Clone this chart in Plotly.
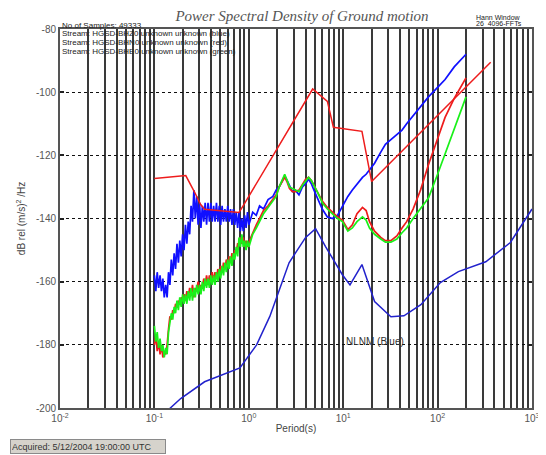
import plotly.graph_objects as go

# ---------------- data ----------------
periods_short = [
    0.1000, 0.1035, 0.1071, 0.1109, 0.1148, 0.1188, 0.1229, 0.1272, 0.1317, 0.1363,
    0.1411, 0.1460, 0.1511, 0.1564, 0.1619, 0.1675, 0.1734, 0.1795, 0.1857, 0.1922,
    0.1990, 0.2059, 0.2132, 0.2206, 0.2283, 0.2363, 0.2446, 0.2532, 0.2620, 0.2712,
    0.2807, 0.2905, 0.3007, 0.3112, 0.3221, 0.3334, 0.3450, 0.3571, 0.3696, 0.3825,
    0.3959, 0.4098, 0.4241, 0.4390, 0.4543, 0.4702, 0.4867, 0.5037, 0.5214, 0.5396,
    0.5585, 0.5780, 0.5983, 0.6192, 0.6409, 0.6633, 0.6865, 0.7106, 0.7354, 0.7612,
    0.7878, 0.8154, 0.8439, 0.8734, 0.9040, 0.9357, 0.9684, 1.0023,
]
blue_short = [
    -158, -163, -157, -162, -158, -163, -159, -165, -161, -165,
    -157, -161, -153, -158, -151, -156, -148, -154, -147, -152,
    -145, -150, -142, -148, -141, -145, -136, -141, -131, -140,
    -133, -142, -135, -143, -136, -141, -135, -142, -135, -141,
    -135, -141, -136, -141, -135, -141, -136, -142, -136, -141,
    -137, -141, -136, -141, -137, -142, -137, -142, -138, -143,
    -138, -144, -140, -144, -139, -143, -138, -142,
]
red_short = [
    -180, -177, -182, -179, -183, -180, -184, -182, -183, -180,
    -175, -171, -172, -169, -170, -167, -168, -166, -167, -165,
    -166, -164, -166, -163, -165, -162, -164, -161, -165, -162,
    -163, -160, -163, -161, -162, -159, -161, -158, -161, -158,
    -160, -157, -160, -157, -159, -156, -158, -155, -157, -154,
    -156, -153, -155, -152, -154, -151, -153, -150, -151, -148,
    -148, -146, -148, -146, -149, -147, -149, -148,
]
green_short = [
    -174, -179, -176, -181, -178, -182, -180, -184, -181, -183,
    -176, -173, -170, -172, -168, -170, -166, -169, -165, -168,
    -164, -167, -164, -167, -163, -166, -162, -166, -162, -165,
    -161, -164, -161, -164, -160, -163, -159, -162, -159, -162,
    -158, -161, -158, -161, -157, -160, -156, -159, -155, -158,
    -154, -157, -153, -156, -152, -155, -151, -153, -149, -152,
    -146, -149, -145, -149, -147, -150, -147, -149,
]

periods_long = [
    1.05, 1.1, 1.2, 1.3, 1.43, 1.6, 1.8, 1.95, 2.1, 2.25,
    2.4, 2.55, 2.7, 2.9, 3.1, 3.4, 3.7, 4.0, 4.3, 4.6,
    4.9, 5.4, 6.0, 6.8, 7.7, 8.7, 9.8, 11.2, 12.5, 14,
    16, 17.5, 19, 21.5, 25, 28, 32, 37, 42, 47,
    55, 66, 80, 100, 120, 150, 200,
]
blue_long = [
    -140, -138, -139, -136, -137, -134, -133, -131, -130, -128,
    -126.5, -128, -129.5, -131.5, -131, -132.5, -130, -129, -127.5, -129,
    -131, -134, -137, -139.5, -140, -139, -136, -133, -131, -129,
    -127, -126, -124.5, -122.5, -119, -116.5, -115, -113.5, -112, -110,
    -107.5, -104.5, -101.5, -98.5, -96, -92, -88,
]
red_long = [
    -146, -144.5, -142, -140, -137.5, -136, -134, -132.5, -130, -128.5,
    -127, -128.5, -130.5, -131.5, -131.5, -131, -129, -127.5, -127, -128,
    -129.5, -132, -134.5, -136.5, -138, -139.5, -140.5, -143.5, -142, -138.5,
    -136.5, -137.5, -141, -144, -146, -147, -147, -145.5, -143, -141,
    -137, -131, -123, -114.5, -108, -102, -95.5,
]
green_long = [
    -147, -145, -143, -141, -138.5, -136.5, -134.5, -133, -130, -128,
    -126, -128, -130, -130.5, -131, -131.5, -129.5, -128, -127, -128,
    -129.5, -132, -135, -137, -138.5, -140, -141, -144, -143, -141,
    -139.5, -140.5, -143, -145, -146.5, -147.5, -147.5, -146.5, -144.5, -143,
    -140, -137, -133.5, -126, -119.5, -112, -101.5,
]

# high-noise reference (red) and NLNM (blue)
high_model_periods = [0.1, 0.215, 0.267, 0.309, 0.34, 0.787, 0.887, 4.75, 6.8, 7.87, 15.8, 20, 365]
high_model_db = [-127.3, -126.4, -131.7, -135.6, -137.1, -138.1, -135.6, -99.0, -102.9, -111.1, -112.4, -128.3, -90.5]

nlnm_periods = [0.13, 0.19, 0.34, 0.805, 1.21, 1.67, 2.67, 4.0, 5.1, 6.5, 9.8, 11.8,
                15.8, 21.5, 32, 44, 66.5, 107, 166, 324, 590, 1000]
nlnm_db = [-201.5, -197, -191.7, -187.3, -180, -171, -154, -146, -143.2, -148.9, -157.8, -161,
           -154.6, -166.3, -171.1, -170.8, -167.3, -160.3, -156.8, -153.7, -147.6, -137]

x_tickvals = [0.01, 0.1, 1, 10, 100, 1000]
x_ticktext = ["10<sup>-2</sup>", "10<sup>-1</sup>", "10<sup>0</sup>",
              "10<sup>1</sup>", "10<sup>2</sup>", "10<sup>3</sup>"]
y_tickvals = [-200, -180, -160, -140, -120, -100, -80]
y_ticktext = ["-200", "-180", "-160", "-140", "-120", "-100", "-80"]

header_lines = [
    "No of Samples: 49333",
    "Stream: HGSD-BHZ0 unknown unknown (blue)",
    "Stream: HGSD-BHN0 unknown unknown (red)",
    "Stream: HGSD-BHE0 unknown unknown (green)",
]

BLUE = "#1010ff"
RED = "#ee1c1c"
GREEN = "#19f019"
FONT = "Liberation Sans, Arial"

# the page body has an 8px margin: the figure is sized/offset to compensate
OFF = 8
W, H = 546 - OFF, 455 - OFF
PL, PR, PT, PB = 60, 540, 29, 408   # plot area in page pixels


def py2paper(py):
    return (PB - py) / (PB - PT)


def px2paper(px):
    return (px - PL) / (PR - PL)


fig = go.Figure()

fig.add_trace(go.Scatter(x=periods_short + periods_long, y=blue_short + blue_long,
                         mode="lines", line=dict(color=BLUE, width=1.7)))
fig.add_trace(go.Scatter(x=periods_short + periods_long, y=red_short + red_long,
                         mode="lines", line=dict(color=RED, width=1.7)))
fig.add_trace(go.Scatter(x=periods_short + periods_long, y=green_short + green_long,
                         mode="lines", line=dict(color=GREEN, width=1.7)))
fig.add_trace(go.Scatter(x=high_model_periods, y=high_model_db,
                         mode="lines", line=dict(color=RED, width=1.5)))
fig.add_trace(go.Scatter(x=nlnm_periods, y=nlnm_db,
                         mode="lines", line=dict(color="#2222cc", width=1.5)))

GRID = "#3a3a3a"
fig.update_xaxes(
    type="log", range=[-2, 3], tickvals=x_tickvals, ticktext=x_ticktext,
    showgrid=True, gridcolor=GRID, gridwidth=1.5,
    minor=dict(showgrid=True, gridcolor=GRID, gridwidth=1.5, ticks="", dtick="D1"),
    showline=True, linecolor="#555", linewidth=2, mirror=True, ticks="",
    tickfont=dict(family=FONT, size=10, color="#555"),
    title=dict(text="Period(s)", font=dict(family=FONT, size=10, color="#444"), standoff=2),
    zeroline=False,
)
fig.update_yaxes(
    range=[-200, -80], tickvals=y_tickvals, ticktext=y_ticktext,
    showgrid=True, gridcolor="#111", gridwidth=1, griddash="dot",
    showline=True, linecolor="#555", linewidth=2, mirror="allticks",
    ticks="inside", ticklen=4, tickcolor="#222", tickwidth=1.5,
    tickfont=dict(family=FONT, size=10, color="#555"),
    title=dict(text="dB rel (m/s)<sup>2</sup> /Hz", font=dict(family=FONT, size=10, color="#444"), standoff=8),
    zeroline=False,
)

annotations = []
header_y = [25, 34, 43, 51]
for txt, yy in zip(header_lines, header_y):
    annotations.append(dict(text=txt, xref="paper", yref="paper", x=0.0, y=py2paper(yy),
                            xanchor="left", yanchor="middle", showarrow=False,
                            font=dict(family=FONT, size=8, color="#222")))
annotations.append(dict(text="Hann Window", xref="paper", yref="paper", x=px2paper(506), y=py2paper(17),
                        xanchor="center", yanchor="middle", showarrow=False,
                        font=dict(family=FONT, size=7, color="#222")))
annotations.append(dict(text="26  4096-FFTs", xref="paper", yref="paper", x=px2paper(506), y=py2paper(24),
                        xanchor="center", yanchor="middle", showarrow=False,
                        font=dict(family=FONT, size=7, color="#222")))
annotations.append(dict(text="NLNM (Blue)", x=1.333, y=-178.8, xref="x", yref="y",
                        xanchor="center", yanchor="middle", showarrow=False,
                        font=dict(family=FONT, size=10, color="#333")))
annotations.append(dict(text="Acquired: 5/12/2004 19:00:00 UTC", xref="paper", yref="paper",
                        x=px2paper(9), y=py2paper(446), xanchor="left", yanchor="middle",
                        showarrow=False, bgcolor="#d6d3cc", bordercolor="#8a8a8a", borderwidth=1,
                        width=152, height=11, align="left",
                        font=dict(family=FONT, size=9, color="#333")))

fig.update_layout(
    width=W, height=H,
    margin=dict(l=PL - OFF, r=546 - PR, t=PT - OFF, b=455 - PB),
    paper_bgcolor="white", plot_bgcolor="white",
    showlegend=False,
    title=dict(text="<i>Power Spectral Density of Ground motion</i>", x=(302 - OFF) / W, xanchor="center",
               y=1 - (16 - OFF) / H, yanchor="middle",
               font=dict(family="Liberation Serif, Times New Roman", size=15, color="#555")),
    annotations=annotations,
)

fig.write_html("out.html")
